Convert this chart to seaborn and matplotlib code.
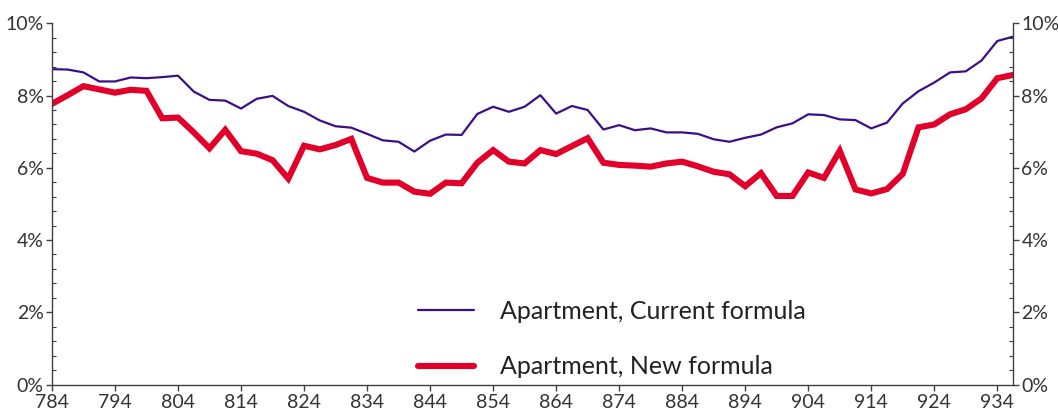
import numpy as np
import pandas as pd
import matplotlib
matplotlib.use("Agg")
import matplotlib.pyplot as plt
import matplotlib.ticker as mticker
import seaborn as sns

# ---------------------------------------------------------------------------
# Data (one point every 2.5 units)
# ---------------------------------------------------------------------------
X_START = 784
X_STEP = 2.5

current_formula = [
    8.73, 8.72, 8.64, 8.39, 8.39, 8.50, 8.48, 8.51, 8.55, 8.11,
    7.88, 7.86, 7.64, 7.91, 7.99, 7.71, 7.55, 7.31, 7.15, 7.11,
    6.94, 6.76, 6.72, 6.45, 6.75, 6.92, 6.91, 7.49, 7.69, 7.55,
    7.69, 8.01, 7.50, 7.71, 7.60, 7.06, 7.18, 7.04, 7.09, 6.98,
    6.98, 6.94, 6.79, 6.72, 6.83, 6.92, 7.12, 7.23, 7.48, 7.46,
    7.34, 7.32, 7.09, 7.25, 7.78, 8.12, 8.36, 8.64, 8.67, 8.97,
    9.51, 9.63,
]
new_formula = [
    7.77, 8.01, 8.26, 8.17, 8.08, 8.16, 8.13, 7.37, 7.39, 6.98,
    6.54, 7.05, 6.46, 6.39, 6.21, 5.70, 6.61, 6.51, 6.63, 6.80,
    5.72, 5.59, 5.59, 5.34, 5.28, 5.59, 5.57, 6.14, 6.49, 6.17,
    6.12, 6.49, 6.38, 6.60, 6.82, 6.14, 6.08, 6.06, 6.03, 6.12,
    6.17, 6.04, 5.89, 5.82, 5.49, 5.85, 5.22, 5.22, 5.87, 5.72,
    6.47, 5.40, 5.29, 5.41, 5.83, 7.12, 7.20, 7.48, 7.62, 7.92,
    8.48, 8.57,
]
labels = ["Apartment, Current formula", "Apartment, New formula"]
x_ticks = list(range(784, 935, 10))
y_ticks = [0, 2, 4, 6, 8, 10]

PURPLE = "#3d0f86"
RED = "#e2002a"
AXIS_COLOR = "#404040"
TEXT_COLOR = "#333333"

x_vals = X_START + X_STEP * np.arange(len(current_formula))
df = pd.DataFrame({
    "x": np.concatenate([x_vals, x_vals]),
    "value": current_formula + new_formula,
    "series": [labels[0]] * len(x_vals) + [labels[1]] * len(x_vals),
})

sns.set_style("white")
plt.rcParams["font.family"] = ["Lato", "DejaVu Sans"]

fig = plt.figure(figsize=(10.58, 4.19), dpi=100)
ax = fig.add_axes([0.0491, 0.0823, 0.9084, 0.8621])

sns.lineplot(data=df, x="x", y="value", hue="series", hue_order=labels,
             palette=[PURPLE, RED], ax=ax, legend=False)
lines = ax.get_lines()
lines[0].set_linewidth(1.6)
lines[1].set_linewidth(4.4)
lines[1].set_solid_joinstyle("miter")

ax.set_xlim(784, X_START + X_STEP * (len(x_vals) - 1))
ax.set_ylim(0, 10)
ax.set_xticks(x_ticks)
ax.set_yticks(y_ticks)
ax.yaxis.set_minor_locator(mticker.MultipleLocator(0.4))
ax.yaxis.set_major_formatter(mticker.FuncFormatter(lambda v, _: f"{v:.0f}%"))
ax.set_xlabel("")
ax.set_ylabel("")

for side in ["left", "right", "bottom"]:
    ax.spines[side].set_visible(True)
    ax.spines[side].set_color(AXIS_COLOR)
    ax.spines[side].set_linewidth(1.0)
ax.spines["top"].set_visible(False)

ax.tick_params(axis="y", which="major", left=True, right=True,
               labelleft=True, labelright=True, direction="out",
               length=4, width=1, color=AXIS_COLOR, labelsize=14,
               labelcolor=TEXT_COLOR, pad=2)
ax.tick_params(axis="y", which="minor", left=True, right=True,
               direction="in", length=3, width=0.8, color=AXIS_COLOR)
ax.tick_params(axis="x", which="major", bottom=True, direction="out",
               length=4, width=1, color=AXIS_COLOR, labelsize=14,
               labelcolor=TEXT_COLOR, pad=3)

handles = [plt.Line2D([], [], color=PURPLE, lw=1.6),
           plt.Line2D([], [], color=RED, lw=4.4)]
leg = ax.legend(handles, labels, loc="center left",
                bbox_to_anchor=(418 / 1058, 1 - 339 / 419),
                bbox_transform=fig.transFigure, borderaxespad=0,
                borderpad=0, frameon=False, fontsize=18,
                handlelength=2.25, handletextpad=1.05, labelspacing=1.3)
for t in leg.get_texts():
    t.set_color("#222222")

fig.savefig("out.png", dpi=100)
